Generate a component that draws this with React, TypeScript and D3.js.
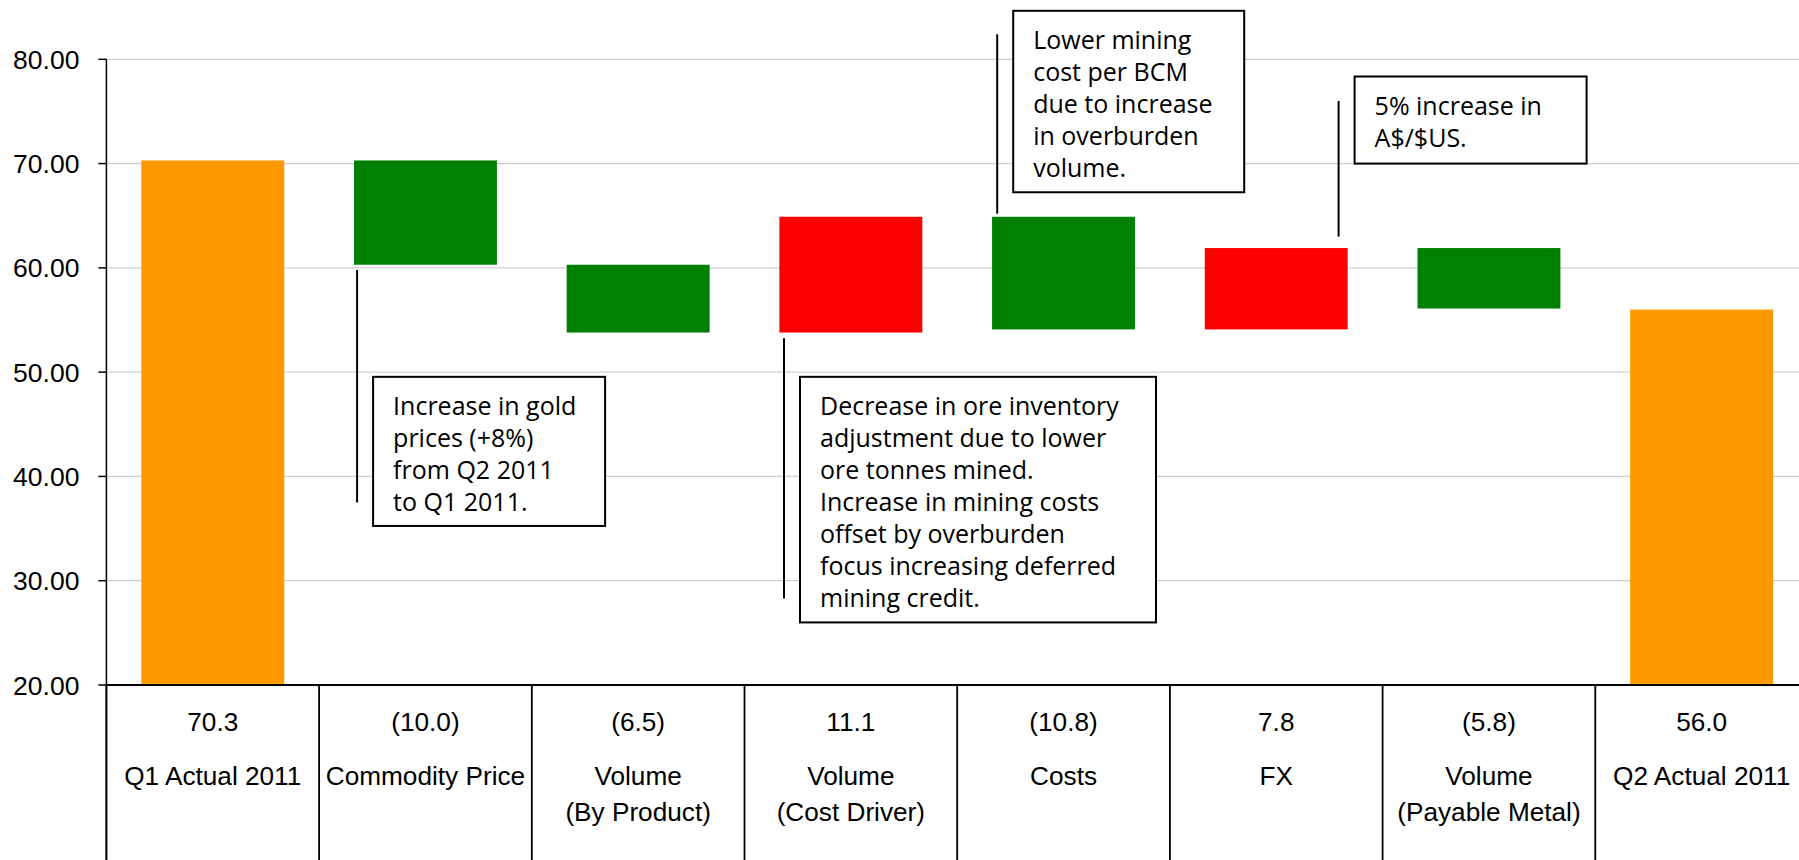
import React from "react";
import * as d3 from "d3";

// categories and values (deltas are signed, totals are absolute)
const categories = [
  "Q1 Actual 2011",
  "Commodity Price",
  "Volume\n(By Product)",
  "Volume\n(Cost Driver)",
  "Costs",
  "FX",
  "Volume\n(Payable Metal)",
  "Q2 Actual 2011",
];
const values = [70.3, -10.0, -6.5, 11.1, -10.8, 7.8, -5.8, 56.0];
const kinds = ["total", "delta", "delta", "delta", "delta", "delta", "delta", "total"];
const yTicks = [20, 30, 40, 50, 60, 70, 80];

// callouts: anchor category, leader span (in value units) and box span (in value units)
const noteCats = ["Commodity Price", "Volume\n(Cost Driver)", "Costs", "FX"];
const noteTexts = [
  ["Increase in gold", "prices (+8%)", "from Q2 2011", "to Q1 2011."],
  [
    "Decrease in ore inventory",
    "adjustment due to lower",
    "ore tonnes mined.",
    "Increase in mining costs",
    "offset by overburden",
    "focus increasing deferred",
    "mining credit.",
  ],
  ["Lower mining", "cost per BCM", "due to increase", "in overburden", "volume."],
  ["5% increase in", "A$/$US."],
];
const noteLeaders = [
  [59.8, 37.5],
  [53.25, 28.3],
  [82.4, 65.2],
  [76.0, 63.0],
];
const noteBoxes = [
  [49.55, 35.25],
  [49.55, 26.0],
  [84.65, 67.25],
  [78.35, 70.0],
];

const W = 1799;
const H = 860;
const margin = { top: 59.3, left: 106.4, bottom: 860 - 685 };
const step = 212.7;

const colorFor = (kind: string, v: number) =>
  kind === "total" ? "#FF9900" : v < 0 ? "#008000" : "#FF0000";

const fmt = (kind: string, v: number) =>
  kind === "total" ? v.toFixed(1) : v < 0 ? `(${Math.abs(v).toFixed(1)})` : v.toFixed(1);

export default function App() {
  const x = d3
    .scaleBand<string>()
    .domain(categories)
    .range([margin.left, margin.left + step * categories.length])
    .padding(0);

  const y = d3.scaleLinear().domain([20, 80]).range([H - margin.bottom, margin.top]);

  // waterfall steps
  let running = 0;
  const bars = values.map((v, i) => {
    let lo: number, hi: number;
    if (kinds[i] === "total") {
      lo = 20;
      hi = v;
      running = v;
    } else {
      const next = running + v;
      lo = Math.min(running, next);
      hi = Math.max(running, next);
      running = next;
    }
    return { cat: categories[i], v, kind: kinds[i], lo, hi };
  });

  const bw = x.bandwidth() * 0.672;
  const axisFont = "'Liberation Sans', Arial, sans-serif";
  const noteFont = "'Open Sans', 'Noto Sans', sans-serif";
  const leaderDx = [38, 39.5, 40, 168.7];
  const boxW = [232, 356, 231, 232];

  return (
    <svg
      width={W}
      height={H}
      style={{ position: "absolute", left: 0, top: 0, display: "block", background: "#fff" }}
    >
      {/* gridlines */}
      {yTicks.slice(1).map((t) => (
        <line key={t} x1={margin.left} x2={W} y1={y(t)} y2={y(t)} stroke="#CFCFCF" strokeWidth={1.2} />
      ))}

      {/* bars */}
      {bars.map((b) => (
        <rect
          key={b.cat}
          x={(x(b.cat) as number) + (x.bandwidth() - bw) / 2}
          y={y(b.hi)}
          width={bw}
          height={y(b.lo) - y(b.hi)}
          fill={colorFor(b.kind, b.v)}
        />
      ))}

      {/* y axis */}
      <line x1={margin.left} x2={margin.left} y1={y(80)} y2={H} stroke="#000" strokeWidth={1.5} />
      {yTicks.map((t) => (
        <g key={t}>
          <line x1={margin.left - 8} x2={margin.left} y1={y(t)} y2={y(t)} stroke="#000" strokeWidth={1.5} />
          <text
            x={margin.left - 27}
            y={y(t)}
            dy="0.36em"
            textAnchor="end"
            fontFamily={axisFont}
            fontSize={26.5}
            fill="#000"
          >
            {t.toFixed(2)}
          </text>
        </g>
      ))}

      {/* category table */}
      <line x1={margin.left} x2={W} y1={y(20)} y2={y(20)} stroke="#000" strokeWidth={2.2} />
      {categories.map((c, i) => (
        <line
          key={"sep" + i}
          x1={(x(c) as number)}
          x2={(x(c) as number)}
          y1={y(20)}
          y2={H}
          stroke="#000"
          strokeWidth={1.8}
        />
      ))}
      {bars.map((b) => {
        const cx = (x(b.cat) as number) + x.bandwidth() / 2;
        const lines = b.cat.split("\n");
        return (
          <g key={"lab" + b.cat} fontFamily={axisFont} fontSize={26.2} fill="#000" textAnchor="middle">
            <text x={cx} y={y(20) + 46}>
              {fmt(b.kind, b.v)}
            </text>
            {lines.map((l, j) => (
              <text key={j} x={cx} y={y(20) + 100 + j * 35.5}>
                {l}
              </text>
            ))}
          </g>
        );
      })}

      {/* callouts */}
      {noteCats.map((c, i) => {
        const lx = (x(c) as number) + leaderDx[i];
        const bx = lx + 16;
        const by = y(noteBoxes[i][0]);
        const bh = y(noteBoxes[i][1]) - by;
        return (
          <g key={"note" + i}>
            <line
              x1={lx}
              x2={lx}
              y1={y(noteLeaders[i][0])}
              y2={y(noteLeaders[i][1])}
              stroke="#000"
              strokeWidth={2}
            />
            <rect x={bx} y={by} width={boxW[i]} height={bh} fill="#fff" stroke="#000" strokeWidth={2} />
            {noteTexts[i].map((t, j) => (
              <text
                key={j}
                x={bx + 20}
                y={by + 38 + j * 32}
                fontFamily={noteFont}
                fontSize={25}
                fill="#000"
              >
                {t}
              </text>
            ))}
          </g>
        );
      })}
    </svg>
  );
}
